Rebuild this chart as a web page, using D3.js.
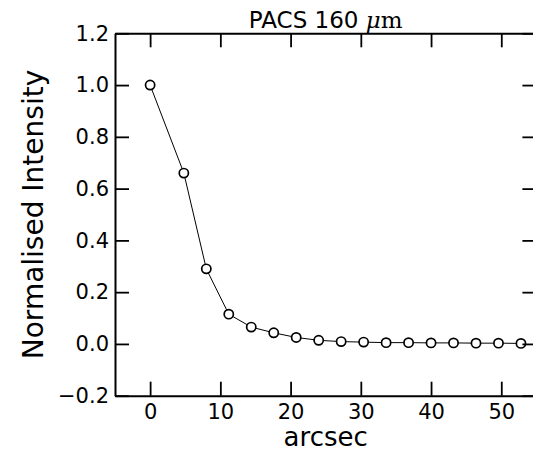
<!DOCTYPE html>
<html lang="en">
<head>
<meta charset="UTF-8">
<script src="https://cdn.jsdelivr.net/npm/d3@7"></script>
<title>PACS 160</title>
<style>
  body { margin: 0; background: #fff; }
  svg { overflow: hidden; display: block; }
  svg text { font-family: "DejaVu Sans", sans-serif; fill: #000; }
</style>
</head>
<body>
<script>
// profile values
var arcsec = [0, 4.8, 8.0, 11.2, 14.4, 17.6, 20.8, 24.0, 27.2, 30.4, 33.6, 36.8, 40.0, 43.2, 46.4, 49.6, 52.8];
var intensity = [1.0, 0.66, 0.29, 0.115, 0.065, 0.043, 0.025, 0.014, 0.009, 0.007, 0.005, 0.005, 0.004, 0.004, 0.003, 0.003, 0.002];
var xTicks = [0, 10, 20, 30, 40, 50];
var yTicks = [-0.2, 0.0, 0.2, 0.4, 0.6, 0.8, 1.0, 1.2];

var width = 533, height = 454;
var mLeft = 115, mRight = 536.4, mTop = 33.3, mBottom = 395.7;

var svg = d3.select("body").append("svg")
    .attr("width", width).attr("height", height);

var x = d3.scaleLinear().domain([-5, 55]).range([mLeft, mRight]);
var y = d3.scaleLinear().domain([-0.2, 1.2]).range([mBottom, mTop]);

var fmtY = function(d){ return d3.format(".1f")(d).replace("-", "\u2212"); };

svg.append("clipPath").attr("id", "clip")
    .append("rect").attr("x", mLeft).attr("y", mTop)
    .attr("width", mRight - mLeft).attr("height", mBottom - mTop);

// data line + markers
var pts = arcsec.map(function(d, i){ return [d, intensity[i]]; });
var plot = svg.append("g").attr("clip-path", "url(#clip)");
plot.append("path")
    .datum(pts)
    .attr("fill", "none")
    .attr("stroke", "#000")
    .attr("stroke-width", 1)
    .attr("d", d3.line()
        .x(function(d){ return x(d[0]); })
        .y(function(d){ return y(d[1]); }));
plot.selectAll("circle").data(pts)
    .enter()
    .append("circle")
    .attr("cx", function(d){ return x(d[0]); })
    .attr("cy", function(d){ return y(d[1]); })
    .attr("r", 4.6)
    .attr("fill", "#fff")
    .attr("stroke", "#000")
    .attr("stroke-width", 1.7);

// axes: inward ticks on all four sides
function styleAxis(g){
    g.select(".domain").attr("stroke", "#000").attr("stroke-width", 2);
    g.selectAll(".tick line").attr("stroke", "#000").attr("stroke-width", 1.8);
    g.selectAll(".tick text").attr("font-size", "21px")
        .attr("font-family", "DejaVu Sans, sans-serif");
}

svg.append("g")
    .attr("transform", "translate(0," + mBottom + ")")
    .call(d3.axisBottom(x).tickValues(xTicks).tickSizeInner(-14).tickSizeOuter(0).tickPadding(8))
    .call(styleAxis);

svg.append("g")
    .attr("transform", "translate(0," + mTop + ")")
    .call(d3.axisTop(x).tickValues(xTicks).tickSizeInner(-14).tickSizeOuter(0).tickFormat(""))
    .call(styleAxis);

svg.append("g")
    .attr("transform", "translate(" + mLeft + ",0)")
    .call(d3.axisLeft(y).tickValues(yTicks).tickSizeInner(-14).tickSizeOuter(0).tickPadding(6).tickFormat(fmtY))
    .call(styleAxis);

// right spine sits just past the window edge, only its ticks show
svg.append("g")
    .attr("transform", "translate(" + mRight + ",0)")
    .call(d3.axisRight(y).tickValues(yTicks).tickSizeInner(-14).tickSizeOuter(0).tickFormat(""))
    .call(styleAxis)
    .select(".domain").remove();

// labels
svg.append("text")
    .attr("x", (mLeft + mRight) / 2)
    .attr("y", 446)
    .attr("text-anchor", "middle")
    .attr("font-size", "26px")
    .text("arcsec");

svg.append("text")
    .attr("transform", "translate(43," + (mTop + mBottom) / 2 + ") rotate(-90)")
    .attr("text-anchor", "middle")
    .attr("font-size", "28px")
    .text("Normalised Intensity");

var title = svg.append("text")
    .attr("x", (mLeft + mRight) / 2)
    .attr("y", 27.5)
    .attr("text-anchor", "middle")
    .attr("font-size", "23px");
title.append("tspan").text("PACS 160 ");
title.append("tspan")
    .attr("font-family", "DejaVu Serif, serif")
    .attr("font-style", "italic")
    .text("\u03bc");
title.append("tspan")
    .attr("font-family", "DejaVu Serif, serif")
    .text("m");
</script>
</body>
</html>
